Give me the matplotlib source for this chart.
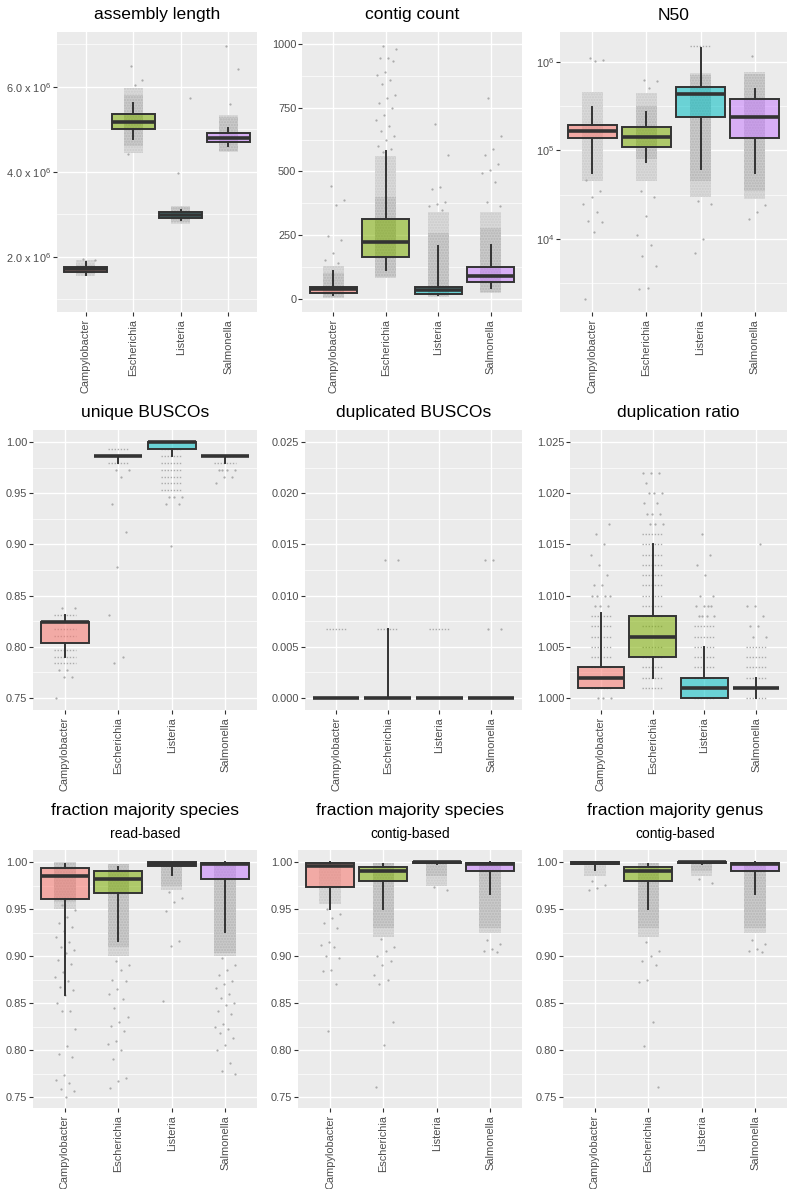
import matplotlib
matplotlib.use("Agg")
import matplotlib.pyplot as plt
import matplotlib.ticker as mticker

plt.rcParams["font.family"] = ["Liberation Sans", "DejaVu Sans"]
plt.rcParams["mathtext.default"] = "regular"

SPECIES = ["Campylobacter", "Escherichia", "Listeria", "Salmonella"]
COLORS = ["#F8766D", "#7CAE00", "#00BFC4", "#C77CFF"]

# box stats per species: (whisker low, q1, median, q3, whisker high)
# CORE / HALO: range of the dense jittered point cloud, None if there is none
# ROWS: values where many points sit on one level, PTS: single visible points

# assembly length
LEN_BOX = [(1.58e6, 1.647e6, 1.71e6, 1.765e6, 1.87e6),
           (4.78e6, 5.0e6, 5.18e6, 5.365e6, 5.61e6),
           (2.88e6, 2.92e6, 2.98e6, 3.05e6, 3.1e6),
           (4.6e6, 4.7e6, 4.79e6, 4.92e6, 5.04e6)]
LEN_CORE = [(1.6e6, 1.82e6), (4.6e6, 5.8e6), (2.82e6, 3.17e6), (4.5e6, 5.3e6)]
LEN_HALO = [(1.55e6, 1.92e6), (4.45e6, 5.98e6), (2.78e6, 3.2e6), (4.46e6, 5.33e6)]
LEN_ROWS = [[], [], [], []]
LEN_PTS = [[1.95e6, 1.93e6],
           [6.5e6, 6.17e6, 6.05e6, 4.42e6],
           [3.98e6, 5.74e6],
           [6.96e6, 6.42e6, 5.6e6]]

# contig count
CNT_BOX = [(17, 23.5, 39, 47, 109),
           (115, 165, 222, 314, 580),
           (16, 21, 37, 47, 207),
           (42, 65, 92, 124, 213)]
CNT_CORE = [(8, 100), (85, 400), (10, 260), (28, 280)]
CNT_HALO = [(5, 130), (82, 560), (8, 340), (24, 340)]
CNT_ROWS = [[], [], [], []]
CNT_PTS = [[442, 388, 370, 246, 233, 180, 154, 140],
           [994, 980, 945, 945, 935, 890, 880, 860, 845, 800, 790, 770, 750,
            720, 700, 680, 660, 640, 625, 600, 590, 575],
           [688, 563, 440, 430, 380, 372, 365, 350],
           [790, 640, 590, 565, 530, 505, 495, 460, 380, 365]]

# N50
N50_BOX = [(5.6e4, 1.39e5, 1.64e5, 1.92e5, 3.08e5),
           (7.4e4, 1.09e5, 1.41e5, 1.82e5, 2.71e5),
           (6.1e4, 2.38e5, 4.3e5, 5.16e5, 1.45e6),
           (5.5e4, 1.37e5, 2.38e5, 3.82e5, 4.9e5)]
N50_CORE = [None, (8e4, 3.2e5), (4.5e4, 7.1e5), (3.5e4, 7.3e5)]
N50_HALO = [(4.5e4, 4.6e5), (4.5e4, 4.5e5), (3e4, 7.5e5), (2.8e4, 7.6e5)]
N50_ROWS = [[], [], [1.5e6], []]
N50_PTS = [[1.1e6, 1.05e6, 1.02e6, 4.6e4, 3.5e4, 3e4, 2.5e4, 2e4, 1.6e4, 1.55e4,
            1.2e4, 2.1e3],
           [6.2e5, 6e5, 5e5, 3.5e4, 3e4, 1.8e4, 1.1e4, 8.5e3, 6.5e3, 5e3, 2.8e3, 2.7e3],
           [2.7e4, 2.5e4, 1e4, 7e3],
           [1.15e6, 2.4e4, 2e4, 1.7e4]]

# unique BUSCOs
UNI_BOX = [(0.7905, 0.8041, 0.8243, 0.8243, 0.8311),
           (0.9797, 0.9865, 0.9865, 0.9865, 0.9865),
           (0.9865, 0.9932, 1.0, 1.0, 1.0),
           (0.9797, 0.9865, 0.9865, 0.9865, 0.9865)]
UNI_CORE = [None, None, None, None]
UNI_HALO = [None, None, None, None]
UNI_ROWS = [[0.8311, 0.8243, 0.8176, 0.8108, 0.7973, 0.7905, 0.7838],
            [0.9932, 0.9865, 0.9797],
            [1.0, 0.9932, 0.9865, 0.9797, 0.9730, 0.9662, 0.9595, 0.9527],
            [0.9865, 0.9797]]
UNI_PTS = [[0.8378, 0.8378, 0.7770, 0.7770, 0.7703, 0.7703, 0.75],
           [0.9730, 0.9730, 0.9662, 0.9392, 0.9122, 0.8784, 0.8311, 0.7905, 0.7838],
           [0.9459, 0.9459, 0.9459, 0.9392, 0.9392, 0.8986],
           [0.9730, 0.9730, 0.9730, 0.9730, 0.9662, 0.9662, 0.9595]]

# duplicated BUSCOs
DUP_BOX = [(0, 0, 0, 0, 0), (0, 0, 0, 0, 0.00676), (0, 0, 0, 0, 0), (0, 0, 0, 0, 0)]
DUP_CORE = [None, None, None, None]
DUP_HALO = [None, None, None, None]
DUP_ROWS = [[0.00676], [0.00676], [0.00676], []]
DUP_PTS = [[], [0.0135, 0.0135], [], [0.00676, 0.00676, 0.0135, 0.0135]]

# duplication ratio
RAT_BOX = [(1.001, 1.001, 1.002, 1.003, 1.0083),
           (1.002, 1.004, 1.006, 1.008, 1.015),
           (1.000, 1.000, 1.001, 1.002, 1.005),
           (1.000, 1.001, 1.001, 1.001, 1.002)]
RAT_CORE = [None, None, None, None]
RAT_HALO = [None, None, None, None]
RAT_ROWS = [[1.001, 1.002, 1.003, 1.004, 1.005, 1.006, 1.007, 1.008],
            [1.001, 1.002, 1.003, 1.004, 1.005, 1.006, 1.007, 1.008, 1.009, 1.010,
             1.011, 1.012, 1.013, 1.014, 1.015, 1.016],
            [1.000, 1.001, 1.002, 1.003, 1.004, 1.005, 1.006, 1.007],
            [1.000, 1.001, 1.002, 1.003, 1.004, 1.005]]
RAT_PTS = [[1.000, 1.000, 1.000, 1.009, 1.009, 1.009, 1.010, 1.010, 1.010, 1.010,
            1.011, 1.011, 1.012, 1.013, 1.014, 1.015, 1.016, 1.017],
           [1.017, 1.017, 1.017, 1.018, 1.018, 1.018, 1.019, 1.019, 1.020, 1.020,
            1.020, 1.021, 1.022, 1.022, 1.022],
           [1.008, 1.008, 1.008, 1.008, 1.009, 1.009, 1.009, 1.009, 1.010, 1.010,
            1.012, 1.013, 1.014, 1.016],
           [1.006, 1.006, 1.007, 1.007, 1.008, 1.009, 1.009, 1.015]]

# fraction majority species, read-based
FRS_BOX = [(0.858, 0.961, 0.9848, 0.994, 0.9975),
           (0.916, 0.967, 0.982, 0.9904, 0.9947),
           (0.9858, 0.9957, 0.9975, 1.0, 1.0),
           (0.9256, 0.982, 0.9975, 0.9989, 1.0)]
FRS_CORE = [(0.958, 0.9995), (0.91, 0.998), (0.974, 1.0), (0.903, 1.0)]
FRS_HALO = [(0.95, 1.0), (0.90, 0.998), (0.97, 1.0), (0.90, 1.0)]
FRS_ROWS = [[], [], [], []]
FRS_PTS = [[0.954, 0.949, 0.942, 0.935, 0.931, 0.927, 0.920, 0.915, 0.910, 0.906,
            0.903, 0.896, 0.892, 0.883, 0.878, 0.873, 0.867, 0.864, 0.858, 0.850,
            0.842, 0.841, 0.822, 0.804, 0.796, 0.793, 0.773, 0.768, 0.765, 0.759,
            0.756, 0.750],
           [0.895, 0.89, 0.885, 0.875, 0.873, 0.865, 0.86, 0.854, 0.845, 0.835,
            0.83, 0.826, 0.82, 0.81, 0.806, 0.80, 0.79, 0.77, 0.767, 0.76],
           [0.968, 0.962, 0.958, 0.948, 0.916, 0.911, 0.852],
           [0.898, 0.89, 0.885, 0.88, 0.873, 0.87, 0.866, 0.86, 0.855, 0.85,
            0.848, 0.842, 0.838, 0.828, 0.825, 0.822, 0.818, 0.813, 0.805, 0.80,
            0.786, 0.778, 0.775]]

# fraction majority species, contig-based
FCS_BOX = [(0.9497, 0.9738, 0.9954, 0.9993, 1.0),
           (0.9497, 0.9798, 0.9904, 0.9947, 0.9975),
           (0.9975, 0.999, 1.0, 1.0, 1.0),
           (0.9657, 0.990, 0.9975, 0.999, 1.0)]
FCS_CORE = [None, (0.93, 0.999), (0.985, 1.0), (0.93, 1.0)]
FCS_HALO = [(0.955, 1.0), (0.92, 0.999), (0.975, 1.0), (0.925, 1.0)]
FCS_ROWS = [[], [], [], []]
FCS_PTS = [[0.95, 0.945, 0.94, 0.935, 0.93, 0.915, 0.912, 0.91, 0.90, 0.898,
            0.885, 0.884, 0.87, 0.82],
           [0.918, 0.91, 0.905, 0.90, 0.895, 0.89, 0.88, 0.875, 0.87, 0.83,
            0.805, 0.761],
           [0.973, 0.97],
           [0.917, 0.913, 0.908, 0.905, 0.904]]

# fraction majority genus, contig-based
FCG_BOX = [(0.992, 0.998, 0.9993, 1.0, 1.0),
           (0.9497, 0.9798, 0.9904, 0.9947, 0.9975),
           (0.9975, 0.999, 1.0, 1.0, 1.0),
           (0.9657, 0.990, 0.9975, 0.999, 1.0)]
FCG_CORE = [None, (0.93, 0.999), (0.99, 1.0), (0.93, 1.0)]
FCG_HALO = [(0.985, 1.0), (0.92, 0.999), (0.985, 1.0), (0.925, 1.0)]
FCG_ROWS = [[], [], [], []]
FCG_PTS = [[0.98, 0.976, 0.972, 0.97],
           [0.915, 0.905, 0.90, 0.895, 0.89, 0.875, 0.872, 0.83, 0.804, 0.761],
           [0.982, 0.978],
           [0.917, 0.913, 0.908, 0.905, 0.904]]

W, H = 796, 1189
fig = plt.figure(figsize=(W / 100, H / 100), dpi=100)


def px(l, r, t, b):
    return [l / W, 1 - b / H, (r - l) / W, (b - t) / H]


frac_ticks = [0.75, 0.80, 0.85, 0.90, 0.95, 1.00]
frac_minor = [0.775, 0.825, 0.875, 0.925, 0.975]
panels = [
    dict(rect=(57, 257, 32, 312), title="assembly length", sub=None,
         data=(LEN_BOX, LEN_CORE, LEN_HALO, LEN_ROWS, LEN_PTS), ylim=(0.706e6, 7.29e6),
         major=[2e6, 4e6, 6e6], minor=[1e6, 3e6, 5e6, 7e6],
         labels=[r"2.0 x $10^6$", r"4.0 x $10^6$", r"6.0 x $10^6$"]),
    dict(rect=(302, 522, 32, 312), title="contig count", sub=None,
         data=(CNT_BOX, CNT_CORE, CNT_HALO, CNT_ROWS, CNT_PTS), ylim=(-51, 1047),
         major=[0, 250, 500, 750, 1000], minor=[125, 375, 625, 875],
         labels=["0", "250", "500", "750", "1000"]),
    dict(rect=(560, 787, 32, 312), title="N50", sub=None, log=True,
         data=(N50_BOX, N50_CORE, N50_HALO, N50_ROWS, N50_PTS), ylim=(1.5e3, 2.17e6),
         major=[1e4, 1e5, 1e6], minor=[10 ** 3.5, 10 ** 4.5, 10 ** 5.5],
         labels=[r"$10^4$", r"$10^5$", r"$10^6$"]),
    dict(rect=(33, 257, 430, 710), title="unique BUSCOs", sub=None,
         data=(UNI_BOX, UNI_CORE, UNI_HALO, UNI_ROWS, UNI_PTS), ylim=(0.7383, 1.0117),
         major=frac_ticks, minor=frac_minor, labels=["%.2f" % v for v in frac_ticks]),
    dict(rect=(305, 522, 430, 710), title="duplicated BUSCOs", sub=None,
         data=(DUP_BOX, DUP_CORE, DUP_HALO, DUP_ROWS, DUP_PTS), ylim=(-0.00117, 0.02617),
         major=[0, 0.005, 0.01, 0.015, 0.02, 0.025],
         minor=[0.0025, 0.0075, 0.0125, 0.0175, 0.0225],
         labels=["0.000", "0.005", "0.010", "0.015", "0.020", "0.025"]),
    dict(rect=(570, 787, 430, 710), title="duplication ratio", sub=None,
         data=(RAT_BOX, RAT_CORE, RAT_HALO, RAT_ROWS, RAT_PTS), ylim=(0.99883, 1.02617),
         major=[1.0, 1.005, 1.01, 1.015, 1.02, 1.025],
         minor=[1.0025, 1.0075, 1.0125, 1.0175, 1.0225],
         labels=["1.000", "1.005", "1.010", "1.015", "1.020", "1.025"]),
    dict(rect=(33, 257, 850, 1108), title="fraction majority species", sub="read-based",
         data=(FRS_BOX, FRS_CORE, FRS_HALO, FRS_ROWS, FRS_PTS), ylim=(0.7383, 1.0128),
         major=frac_ticks, minor=frac_minor, labels=["%.2f" % v for v in frac_ticks]),
    dict(rect=(298, 522, 850, 1108), title="fraction majority species", sub="contig-based",
         data=(FCS_BOX, FCS_CORE, FCS_HALO, FCS_ROWS, FCS_PTS), ylim=(0.7383, 1.0128),
         major=frac_ticks, minor=frac_minor, labels=["%.2f" % v for v in frac_ticks]),
    dict(rect=(563, 787, 850, 1108), title="fraction majority genus", sub="contig-based",
         data=(FCG_BOX, FCG_CORE, FCG_HALO, FCG_ROWS, FCG_PTS), ylim=(0.7383, 1.0128),
         major=frac_ticks, minor=frac_minor, labels=["%.2f" % v for v in frac_ticks]),
]

JIT = 0.4
PT_COLOR = "#ababab"

for p in panels:
    l, r, t, b = p["rect"]
    ax = fig.add_axes(px(l, r, t, b))
    ax.set_facecolor("#EBEBEB")
    if p.get("log"):
        ax.set_yscale("log")
    box, core, halo, rows, pts = p["data"]
    xs = range(1, len(SPECIES) + 1)

    # jittered points: dense clouds as shaded bands, rows and single dots
    for x, h, c, rw, pp in zip(xs, halo, core, rows, pts):
        if h is not None:
            ax.bar(x, h[1] - h[0], bottom=h[0], width=JIT, color="#d9d9d9",
                   hatch="......", edgecolor="#cbcbcb", linewidth=0, zorder=2)
        if c is not None:
            ax.bar(x, c[1] - c[0], bottom=c[0], width=JIT, color="#cacaca",
                   hatch="......", edgecolor="#b6b6b6", linewidth=0, zorder=2)
        if rw:
            ax.hlines(rw, x - JIT / 2, x + JIT / 2, colors=PT_COLOR, lw=1.0,
                      linestyles=(0, (1, 1.2)), zorder=2)
        offs = [((i * 0.618034 + 0.37) % 1.0 - 0.5) * JIT for i in range(len(pp))]
        ax.scatter([x + o for o in offs], pp, s=2.6, color=PT_COLOR, linewidths=0,
                   zorder=2)

    stats = [dict(whislo=s[0], q1=s[1], med=s[2], q3=s[3], whishi=s[4]) for s in box]
    bp = ax.bxp(stats, positions=list(xs), widths=0.9, showcaps=False, showfliers=False,
                patch_artist=True,
                boxprops=dict(edgecolor="#333333", linewidth=1.4),
                whiskerprops=dict(color="#333333", linewidth=1.4),
                medianprops=dict(color="#333333", linewidth=2.6, solid_capstyle="butt"),
                zorder=3)
    for patch, col in zip(bp["boxes"], COLORS):
        patch.set_facecolor(matplotlib.colors.to_rgba(col, 0.55))

    ax.set_xlim(0.4, 4.6)
    ax.set_ylim(*p["ylim"])
    ax.set_yticks(p["major"])
    ax.set_yticklabels(p["labels"])
    ax.yaxis.set_minor_locator(mticker.FixedLocator(p["minor"]))
    ax.yaxis.set_minor_formatter(mticker.NullFormatter())
    ax.set_xticks(list(xs))
    ax.set_xticklabels(SPECIES, rotation=90)
    ax.grid(True, which="major", color="white", linewidth=1.0, zorder=0)
    ax.grid(True, which="minor", axis="y", color="white", linewidth=0.5, zorder=0)
    ax.set_axisbelow(True)
    ax.tick_params(axis="both", which="major", length=2.6, width=0.8, color="#333333",
                   labelsize=7.9, labelcolor="#4D4D4D", pad=1.5)
    ax.tick_params(axis="x", which="major", pad=2.5)
    ax.tick_params(axis="y", which="minor", length=0)
    for s in ax.spines.values():
        s.set_visible(False)

    cx = (l + r) / 2 / W
    if p["sub"] is None:
        fig.text(cx, 1 - (t - 17) / H, p["title"], ha="center", va="center", fontsize=12.6)
    else:
        fig.text(cx, 1 - (t - 39) / H, p["title"], ha="center", va="center", fontsize=12.6)
        fig.text(cx, 1 - (t - 16) / H, p["sub"], ha="center", va="center", fontsize=10)

fig.savefig("out.png", dpi=100)
